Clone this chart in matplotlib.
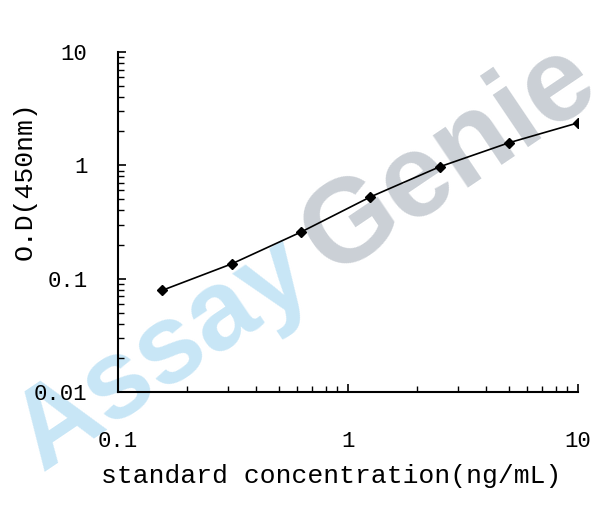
import numpy as np
import matplotlib
matplotlib.use("Agg")
import matplotlib.pyplot as plt
from matplotlib.ticker import LogLocator, NullFormatter, FixedLocator, FixedFormatter

# standard curve values
conc = [0.156, 0.312, 0.625, 1.25, 2.5, 5, 10]
od = [0.079, 0.135, 0.258, 0.526, 0.97, 1.58, 2.37]

x_ticks = [0.1, 1, 10]
x_tick_labels = ["0.1", "1", "10"]
y_ticks = [0.01, 0.1, 1, 10]
y_tick_labels = ["0.01", "0.1", "1", "10"]

mono = "Liberation Mono"
W, H = 608, 517

fig = plt.figure(figsize=(W / 100, H / 100), dpi=100)
ax = fig.add_axes([118 / W, 1 - 392 / H, 460 / W, 340 / H])
ax.patch.set_alpha(0)

# watermark behind the axes
def put_watermark():
    ang = 34
    rad = np.deg2rad(ang)
    x0, y0 = 42, H - 472
    t1 = fig.text(x0 / W, y0 / H, "Assay", fontsize=81, fontweight="bold",
                  family="Liberation Sans", color="#c8e6f6", rotation=0,
                  rotation_mode="anchor", ha="left", va="baseline", zorder=-5)
    fig.canvas.draw()
    w = t1.get_window_extent().width + 16
    t1.set_rotation(ang)
    x1 = x0 + w * np.cos(rad)
    y1 = y0 + w * np.sin(rad)
    fig.text(x1 / W, y1 / H, "Genie", fontsize=85, fontweight="bold",
             family="Liberation Sans", color="#cbd0d6", rotation=ang,
             rotation_mode="anchor", ha="left", va="baseline", zorder=-5)

put_watermark()

ax.plot(conc, od, color="black", linewidth=1.2, marker="D", markersize=5,
        markerfacecolor="black", markeredgecolor="black")

ax.set_xscale("log")
ax.set_yscale("log")
ax.set_xlim(0.1, 10)
ax.set_ylim(0.01, 10)

ax.xaxis.set_major_locator(FixedLocator(x_ticks))
ax.xaxis.set_major_formatter(FixedFormatter(x_tick_labels))
ax.yaxis.set_major_locator(FixedLocator(y_ticks))
ax.yaxis.set_major_formatter(FixedFormatter(y_tick_labels))
ax.xaxis.set_minor_locator(LogLocator(base=10, subs=np.arange(2, 10)))
ax.yaxis.set_minor_locator(LogLocator(base=10, subs=np.arange(2, 10)))
ax.xaxis.set_minor_formatter(NullFormatter())
ax.yaxis.set_minor_formatter(NullFormatter())

for s in ["top", "right"]:
    ax.spines[s].set_visible(False)
for s in ["left", "bottom"]:
    ax.spines[s].set_linewidth(1.5)

ax.tick_params(which="major", direction="in", length=6, width=1.2)
ax.tick_params(which="minor", direction="in", length=4, width=1.0)
ax.tick_params(axis="x", which="major", pad=28)
ax.tick_params(axis="y", which="major", pad=22)

for lab in ax.get_xticklabels() + ax.get_yticklabels():
    lab.set_fontfamily(mono)
    lab.set_fontsize(16)

ax.set_xlabel("standard concentration(ng/mL)", fontfamily=mono, fontsize=19)
ax.set_ylabel("O.D(450nm)", fontfamily=mono, fontsize=19)
ax.xaxis.set_label_coords(0.463, (392 - 476) / 340)
ax.xaxis.label.set_va("center")
ax.yaxis.set_label_coords((25 - 118) / 460, (392 - 181) / 340)
ax.yaxis.label.set_va("center")

fig.savefig("out.png", dpi=100)
